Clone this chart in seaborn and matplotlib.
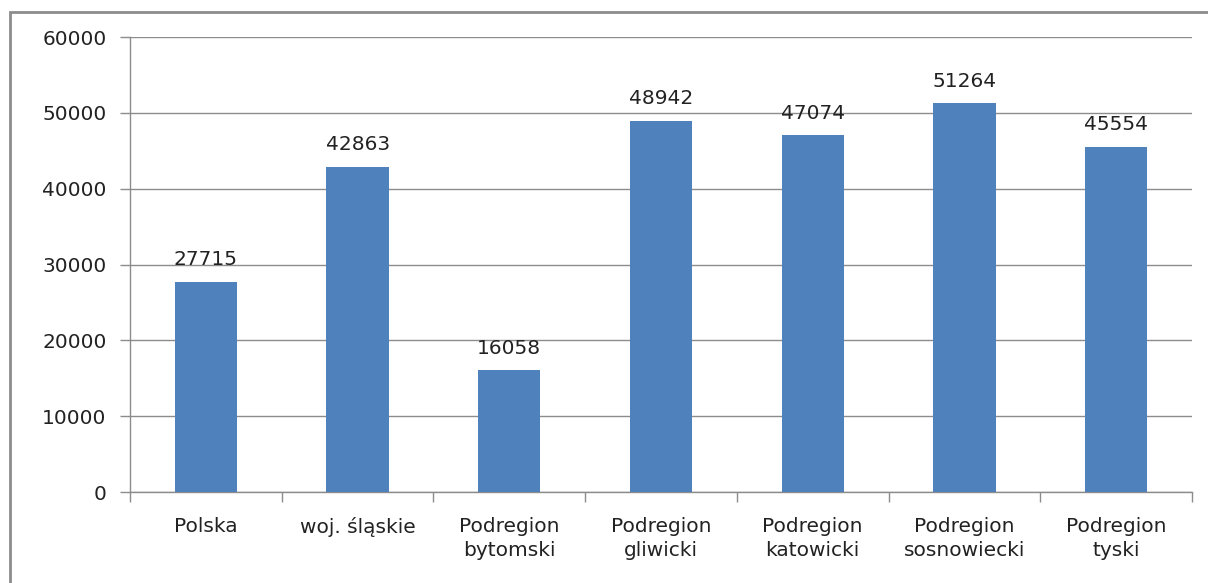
import matplotlib
matplotlib.use('Agg')
import matplotlib.pyplot as plt
import seaborn as sns
import pandas as pd
from matplotlib.patches import Rectangle

# dane z wykresu
regiony = ['Polska', 'woj. śląskie', 'Podregion\nbytomski', 'Podregion\ngliwicki',
           'Podregion\nkatowicki', 'Podregion\nsosnowiecki', 'Podregion\ntyski']
wartosci = [27715, 42863, 16058, 48942, 47074, 51264, 45554]
y_ticks = [0, 10000, 20000, 30000, 40000, 50000, 60000]

df = pd.DataFrame({'region': regiony, 'wartosc': wartosci})

sns.set_theme(style='white')
plt.rcParams['font.family'] = ['DejaVu Sans']

fig = plt.figure(figsize=(12.08, 5.83), dpi=100)
ax = fig.add_axes([130 / 1208, 1 - 492 / 583, (1192 - 130) / 1208, (492 - 37) / 583])

sns.barplot(data=df, x='region', y='wartosc', color='#4F81BD', width=0.41,
            saturation=1, linewidth=0, ax=ax, zorder=3)

# ramka wokół wykresu
fig.patches.append(Rectangle((10 / 1208, -0.1), 1.2, 1 - 12 / 583 + 0.1,
                             transform=fig.transFigure, fill=False,
                             edgecolor='#8c8c8c', linewidth=2))

ax.set_ylim(0, 60000)
ax.set_xlim(-0.5, len(regiony) - 0.5)
ax.set_yticks(y_ticks)
ax.set_yticklabels([str(t) for t in y_ticks], fontsize=14.5, color='#222222')
ax.yaxis.grid(True, color='#8c8c8c', linewidth=1, zorder=0)
ax.set_xlabel('')
ax.set_ylabel('')

ax.set_xticks(range(len(regiony)))
ax.set_xticklabels(regiony, fontsize=14.5, color='#222222', linespacing=1.35)
ax.tick_params(axis='x', length=0, pad=18)
ax.tick_params(axis='y', length=7, color='#8c8c8c', width=1, pad=10, left=True)
ax.set_xticks([i - 0.5 for i in range(len(regiony) + 1)], minor=True)
ax.tick_params(axis='x', which='minor', length=7, color='#8c8c8c', width=1, bottom=True)

for s in ['top', 'right']:
    ax.spines[s].set_visible(False)
for s in ['left', 'bottom']:
    ax.spines[s].set_color('#8c8c8c')
    ax.spines[s].set_linewidth(1)

ax.bar_label(ax.containers[0], labels=[str(v) for v in wartosci], padding=9,
             fontsize=14.5, color='#222222')

fig.savefig('out.png', dpi=100)
